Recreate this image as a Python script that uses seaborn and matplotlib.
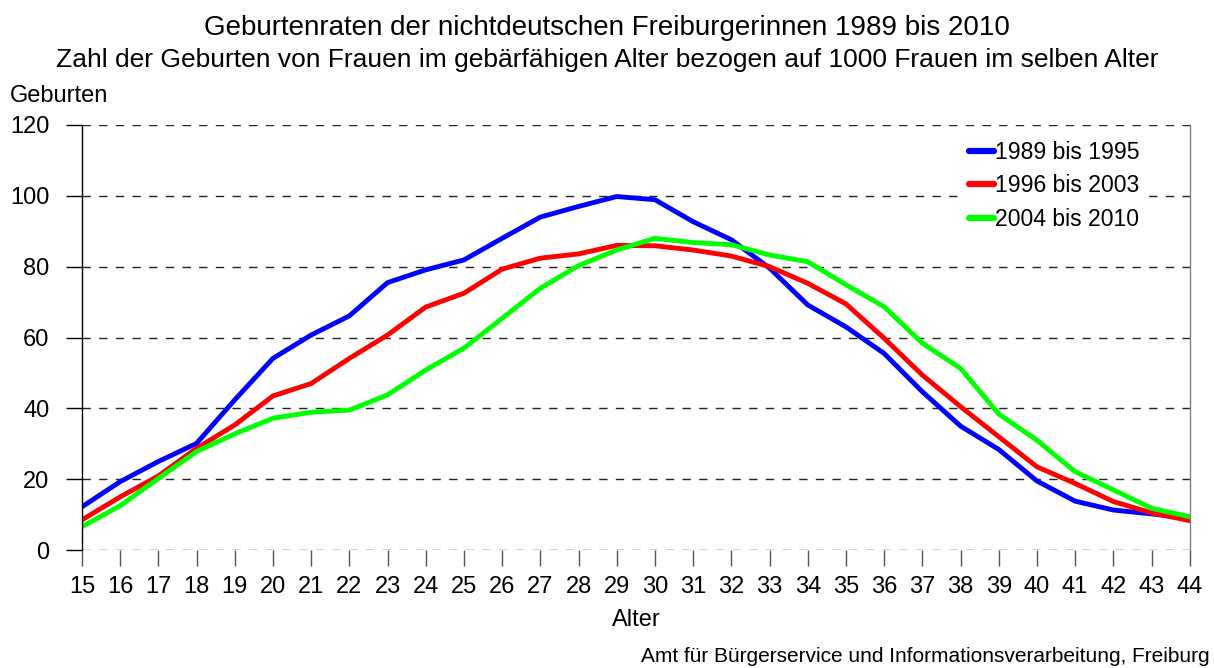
import pandas as pd
import matplotlib
matplotlib.use('Agg')
import matplotlib.pyplot as plt
import seaborn as sns

ages = list(range(15, 45))
rate_1989_1995 = [12.2, 19.3, 25.0, 30.1, 42.4, 54.1, 60.7, 66.1, 75.5, 79.1,
                  81.9, 88.0, 94.0, 97.0, 99.8, 98.9, 92.7, 87.6, 79.6, 69.2,
                  63.0, 55.5, 44.7, 35.0, 28.4, 19.5, 13.8, 11.3, 10.2, 8.9]
rate_1996_2003 = [8.5, 15.0, 20.9, 28.7, 35.3, 43.5, 47.0, 54.1, 60.7, 68.6,
                  72.5, 79.3, 82.4, 83.6, 86.0, 85.9, 84.7, 83.0, 80.0, 75.3,
                  69.5, 59.8, 49.4, 40.5, 32.0, 23.5, 18.8, 13.7, 10.5, 8.3]
rate_2004_2010 = [6.6, 12.5, 20.2, 27.8, 32.8, 37.2, 38.9, 39.5, 43.8, 50.8,
                  57.0, 65.4, 73.9, 80.3, 84.7, 88.0, 86.8, 86.2, 83.3, 81.4,
                  74.9, 68.7, 58.4, 51.3, 38.4, 31.0, 22.1, 17.0, 11.8, 9.4]
periods = ['1989 bis 1995', '1996 bis 2003', '2004 bis 2010']
colors = ['#0000FF', '#FF0000', '#00FF00']

df = pd.concat([
    pd.DataFrame({'Alter': ages, 'Geburten': vals, 'Zeitraum': p})
    for p, vals in zip(periods, [rate_1989_1995, rate_1996_2003, rate_2004_2010])
])

sns.set_style('white')
plt.rcParams['font.family'] = ['Liberation Sans', 'DejaVu Sans']
plt.rcParams['text.color'] = 'black'
plt.rcParams['axes.labelcolor'] = 'black'
plt.rcParams['xtick.color'] = 'black'
plt.rcParams['ytick.color'] = 'black'

fig = plt.figure(figsize=(12.14, 6.68), dpi=100)
ax = fig.add_axes([0.0675, 0.1766, 0.9125, 0.6363])

sns.lineplot(data=df, x='Alter', y='Geburten', hue='Zeitraum',
             palette=dict(zip(periods, colors)), linewidth=3.5, ax=ax)

ax.set_xlim(15, 44)
ax.set_ylim(0, 120)
ax.set_xticks(ages)
ax.set_yticks(range(0, 121, 20))
ax.tick_params(axis='both', labelsize=17, direction='out', length=11.5,
               width=1, bottom=True, left=True)
ax.tick_params(axis='x', pad=7, color='#555555')
ax.tick_params(axis='y', pad=12)
ax.yaxis.grid(True, color='#222222', linestyle=(0, (6, 6)), linewidth=1)
ax.xaxis.grid(False)
ax.set_axisbelow(True)

for side in ['top', 'bottom']:
    ax.spines[side].set_visible(False)
ax.spines['left'].set_color('black')
ax.spines['left'].set_linewidth(1)
ax.spines['right'].set_color('#808080')
ax.spines['right'].set_linewidth(1)

ax.set_xlabel('Alter', fontsize=17)
ax.xaxis.set_label_coords(0.5, -0.138)
ax.set_ylabel('')

# white box behind the legend, as the dashed line at 100 is cut there
leg = ax.legend(loc='upper left', frameon=True, fontsize=16.6,
                handlelength=1.1, handletextpad=0.05, labelspacing=0.45,
                borderaxespad=0, borderpad=0.2, bbox_to_anchor=(0.7963, 0.973),
                facecolor='white', edgecolor='none', framealpha=1, fancybox=False)
for line in leg.get_lines():
    line.set_linewidth(4.5)
    line.set_solid_capstyle('round')

fig.text(0.5, 0.9476, 'Geburtenraten der nichtdeutschen Freiburgerinnen 1989 bis 2010',
         ha='center', va='baseline', fontsize=20)
fig.text(0.5, 0.8997, 'Zahl der Geburten von Frauen im gebärfähigen Alter bezogen auf 1000 Frauen im selben Alter',
         ha='center', va='baseline', fontsize=19)
fig.text(0.008, 0.8473, 'Geburten', ha='left', va='baseline', fontsize=17)
fig.text(0.9967, 0.009, 'Amt für Bürgerservice und Informationsverarbeitung, Freiburg',
         ha='right', va='baseline', fontsize=15)

fig.savefig('out.png', dpi=100)
